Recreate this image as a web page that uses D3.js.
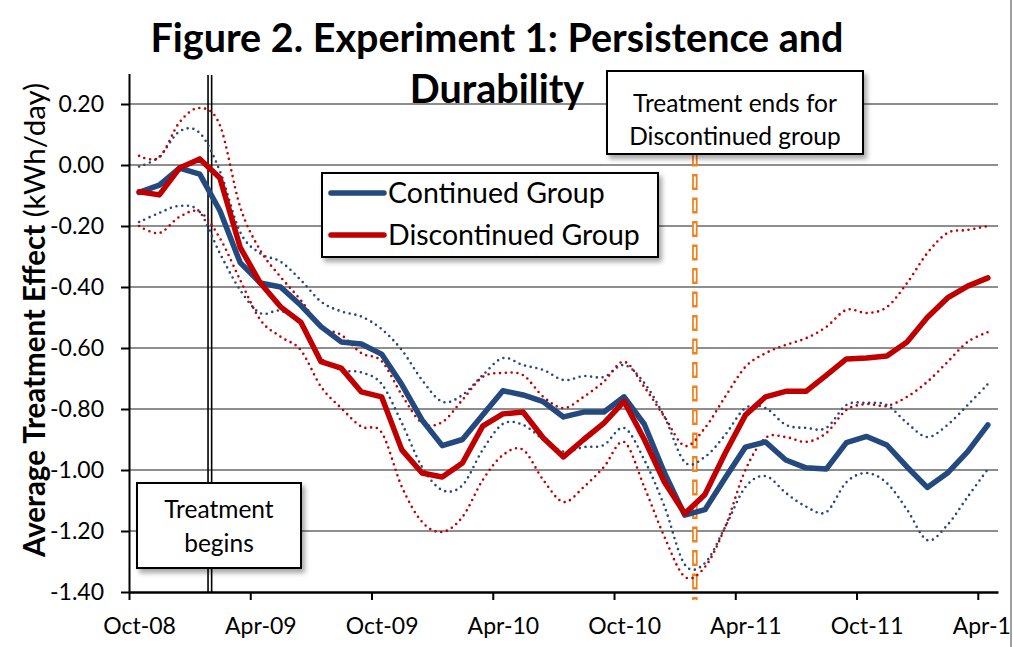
<!DOCTYPE html>
<html>
<head>
<meta charset="utf-8">
<script src="https://cdn.jsdelivr.net/npm/d3@7"></script>
<style>
  body { margin: 0; background: #fff; }
  svg { display: block; font-family: Lato, "Open Sans", sans-serif; }
</style>
</head>
<body>
<svg width="1013" height="647"></svg>
<script>
// Monthly estimates, Oct-08 .. Apr-12 (43 months)
const tickLabels = ["Oct-08", "Apr-09", "Oct-09", "Apr-10", "Oct-10", "Apr-11", "Oct-11", "Apr-12"];
const yTicks = [0.2, 0, -0.2, -0.4, -0.6, -0.8, -1.0, -1.2, -1.4];

const continued = [-0.09, -0.066, -0.01, -0.03, -0.15, -0.32, -0.387, -0.40, -0.46, -0.53,
  -0.58, -0.587, -0.62, -0.72, -0.836, -0.92, -0.90, -0.82, -0.74, -0.754,
  -0.776, -0.826, -0.81, -0.81, -0.76, -0.85, -1.01, -1.148, -1.13, -1.026,
  -0.925, -0.908, -0.967, -0.993, -0.997, -0.91, -0.89, -0.918, -0.99, -1.057,
  -1.01, -0.94, -0.852];
const continuedUpper = [-0.005, 0.027, 0.11, 0.105, -0.02, -0.22, -0.29, -0.317, -0.377, -0.448,
  -0.48, -0.497, -0.538, -0.607, -0.705, -0.776, -0.754, -0.689, -0.633, -0.656,
  -0.672, -0.705, -0.692, -0.695, -0.656, -0.715, -0.826, -0.974, -0.957, -0.885,
  -0.797, -0.797, -0.852, -0.862, -0.862, -0.787, -0.78, -0.787, -0.846, -0.892,
  -0.852, -0.787, -0.718];
const continuedLower = [-0.187, -0.157, -0.134, -0.154, -0.29, -0.41, -0.486, -0.478, -0.525, -0.633,
  -0.672, -0.68, -0.718, -0.846, -0.99, -1.066, -1.05, -0.934, -0.849, -0.852,
  -0.90, -0.94, -0.925, -0.918, -0.862, -0.967, -1.12, -1.31, -1.305, -1.187,
  -1.056, -1.02, -1.075, -1.12, -1.138, -1.04, -1.01, -1.043, -1.13, -1.23,
  -1.18, -1.088, -0.997];

const discontinued = [-0.088, -0.098, -0.01, 0.02, -0.043, -0.27, -0.387, -0.465, -0.515, -0.645,
  -0.666, -0.744, -0.76, -0.934, -1.01, -1.023, -0.977, -0.856, -0.816, -0.81,
  -0.895, -0.957, -0.90, -0.846, -0.775, -0.90, -1.04, -1.143, -1.08, -0.945,
  -0.82, -0.76, -0.742, -0.742, -0.69, -0.636, -0.633, -0.626, -0.58, -0.50,
  -0.436, -0.397, -0.37];
const discontinuedUpper = [0.03, 0.025, 0.14, 0.187, 0.13, -0.137, -0.28, -0.367, -0.443, -0.53,
  -0.557, -0.617, -0.643, -0.754, -0.846, -0.843, -0.77, -0.695, -0.682, -0.689,
  -0.76, -0.797, -0.76, -0.71, -0.645, -0.728, -0.826, -0.921, -0.862, -0.76,
  -0.662, -0.617, -0.59, -0.568, -0.531, -0.475, -0.485, -0.466, -0.387, -0.289,
  -0.223, -0.213, -0.2];
const discontinuedLower = [-0.2, -0.223, -0.17, -0.154, -0.24, -0.377, -0.508, -0.563, -0.607, -0.727,
  -0.797, -0.858, -0.877, -1.055, -1.17, -1.203, -1.154, -1.033, -0.951, -0.934,
  -1.033, -1.105, -1.056, -0.99, -0.908, -1.056, -1.22, -1.35, -1.318, -1.187,
  -1.0, -0.895, -0.892, -0.908, -0.879, -0.803, -0.784, -0.79, -0.76, -0.711,
  -0.646, -0.58, -0.548];

const treatmentBegins = 4;   // month index (Feb-09)
const treatmentEnds = 28;    // month index (Feb-11)

const blue = "#24497f", red = "#c00000", orange = "#f0821e";

const svg = d3.select("svg");

const x = d3.scaleLinear().domain([0, continued.length]).range([129, 998]);
const y = d3.scaleLinear().domain([-1.4, 0.3]).range([592, 73.5]);

const defs = svg.append("defs");
defs.append("clipPath").attr("id", "frame")
  .append("rect").attr("x", 0).attr("y", 0).attr("width", 1010).attr("height", 647);
defs.append("filter").attr("id", "shadow").attr("x", "-10%").attr("y", "-10%").attr("width", "130%").attr("height", "140%")
  .append("feDropShadow").attr("dx", 3).attr("dy", 4).attr("stdDeviation", 2.5)
  .attr("flood-color", "#000").attr("flood-opacity", 0.35);

const g = svg.append("g").attr("clip-path", "url(#frame)");

// gridlines
g.append("g")
  .selectAll("line")
  .data(yTicks.filter(d => d > -1.3))
  .join("line")
    .attr("x1", x(0)).attr("x2", x(continued.length))
    .attr("y1", d => y(d)).attr("y2", d => y(d))
    .attr("stroke", "#8e8e8e").attr("stroke-width", 2);

// y axis
const yAxis = g.append("g")
  .attr("transform", `translate(${x(0)},0)`)
  .call(d3.axisLeft(y).tickValues(yTicks).tickSize(8).tickSizeOuter(0).tickPadding(17)
    .tickFormat(d => (Math.abs(d) < 1e-9 ? 0 : d).toFixed(2)));
yAxis.select(".domain").attr("stroke", "#000").attr("stroke-width", 2);
yAxis.selectAll(".tick line").attr("stroke", "#000").attr("stroke-width", 2);
yAxis.selectAll("text").attr("font-size", 23).attr("fill", "#000").attr("font-family", "Lato");

// x axis ticks (between categories) and labels (on categories)
const xTickIdx = tickLabels.map((d, i) => i * 6);
const xAxis = g.append("g")
  .attr("transform", `translate(0,${y(-1.4)})`)
  .call(d3.axisBottom(x).tickValues(xTickIdx).tickSize(8).tickSizeOuter(0).tickFormat(""));
xAxis.select(".domain").attr("stroke", "#000").attr("stroke-width", 2.5);
xAxis.selectAll(".tick line").attr("stroke", "#000").attr("stroke-width", 2);

const xLabels = g.append("g")
  .attr("transform", `translate(0,${y(-1.4)})`)
  .call(d3.axisBottom(x).tickValues(xTickIdx.map(d => d + 0.5)).tickSize(0).tickPadding(26)
    .tickFormat((d, i) => tickLabels[i]));
xLabels.select(".domain").remove();
xLabels.selectAll("text").attr("font-size", 23).attr("fill", "#000").attr("font-family", "Lato");

// treatment begins: double line
[-1.8, 1.8].forEach(off => {
  g.append("line")
    .attr("x1", x(treatmentBegins) + off).attr("x2", x(treatmentBegins) + off)
    .attr("y1", 75).attr("y2", y(-1.4))
    .attr("stroke", "#000").attr("stroke-width", 1.6);
});

// treatment ends: hollow orange dashes
g.append("line")
  .attr("x1", x(treatmentEnds)).attr("x2", x(treatmentEnds))
  .attr("y1", 80).attr("y2", 600)
  .attr("stroke", orange).attr("stroke-width", 5.5)
  .attr("stroke-dasharray", "16 7.5");
g.append("line")
  .attr("x1", x(treatmentEnds)).attr("x2", x(treatmentEnds))
  .attr("y1", 82.5).attr("y2", 600)
  .attr("stroke", "#fff").attr("stroke-width", 2)
  .attr("stroke-dasharray", "11 12.5");

// series
const smooth = d3.line()
  .x((d, i) => x(i + 0.5))
  .y(d => y(d))
  .curve(d3.curveCardinal.tension(0));

const straight = d3.line()
  .x((d, i) => x(i + 0.5))
  .y(d => y(d));

const bounds = [
  {values: continuedUpper, color: blue},
  {values: continuedLower, color: blue},
  {values: discontinuedUpper, color: red},
  {values: discontinuedLower, color: red}
];

g.append("g")
  .selectAll("path")
  .data(bounds)
  .join("path")
    .attr("d", d => smooth(d.values))
    .attr("fill", "none")
    .attr("stroke", d => d.color)
    .attr("stroke-width", 2.6)
    .attr("stroke-linecap", "round")
    .attr("stroke-dasharray", "0 5.8");

g.append("path")
  .attr("d", straight(continued))
  .attr("fill", "none").attr("stroke", blue).attr("stroke-width", 5.5)
  .attr("stroke-linejoin", "round").attr("stroke-linecap", "round");

g.append("path")
  .attr("d", straight(discontinued))
  .attr("fill", "none").attr("stroke", red).attr("stroke-width", 5.5)
  .attr("stroke-linejoin", "round").attr("stroke-linecap", "round");

// title
const title = svg.append("text")
  .attr("text-anchor", "middle")
  .attr("font-weight", "bold")
  .attr("font-size", 39.5)
  .attr("fill", "#000");
title.append("tspan").attr("x", 497).attr("y", 52).text("Figure 2. Experiment 1: Persistence and");
title.append("tspan").attr("x", 497).attr("y", 103).text("Durability");

// y axis title
const yTitle = svg.append("text")
  .attr("transform", "translate(45,320) rotate(-90)")
  .attr("text-anchor", "middle")
  .attr("font-size", 29.5)
  .attr("fill", "#000");
yTitle.append("tspan").attr("font-weight", "bold").text("Average Treatment Effect");
yTitle.append("tspan").text(" (kWh/day)");

// legend
const legend = svg.append("g");
legend.append("rect")
  .attr("x", 322).attr("y", 173).attr("width", 336).attr("height", 84)
  .attr("fill", "#fff").attr("stroke", "#000").attr("stroke-width", 2)
  .attr("filter", "url(#shadow)");
const legendItems = [
  {name: "Continued Group", color: blue, yy: 193},
  {name: "Discontinued Group", color: red, yy: 235}
];
legend.selectAll("line")
  .data(legendItems)
  .join("line")
    .attr("x1", 331).attr("x2", 384)
    .attr("y1", d => d.yy).attr("y2", d => d.yy)
    .attr("stroke", d => d.color).attr("stroke-width", 5.5)
    .attr("stroke-linecap", "round");
legend.selectAll("text")
  .data(legendItems)
  .join("text")
    .attr("x", 388).attr("y", d => d.yy + 10)
    .attr("font-size", 28.5).attr("fill", "#000")
    .text(d => d.name);

// annotation boxes
function noteBox(x0, y0, w, h, lines, lineY) {
  const b = svg.append("g");
  b.append("rect")
    .attr("x", x0).attr("y", y0).attr("width", w).attr("height", h)
    .attr("fill", "#fff").attr("stroke", "#000").attr("stroke-width", 2)
    .attr("filter", "url(#shadow)");
  b.selectAll("text")
    .data(lines)
    .join("text")
      .attr("x", x0 + w / 2).attr("y", (d, i) => lineY[i])
      .attr("text-anchor", "middle")
      .attr("font-size", 24.5).attr("fill", "#000")
      .text(d => d);
}
noteBox(137, 483, 164, 85, ["Treatment", "begins"], [518, 552]);
noteBox(607, 71, 256, 83, ["Treatment ends for", "Discontinued group"], [112, 145]);

// chart frame edge
svg.append("line")
  .attr("x1", 1011).attr("x2", 1011).attr("y1", 0).attr("y2", 647)
  .attr("stroke", "#a0a0a0").attr("stroke-width", 2);
</script>
</body>
</html>
